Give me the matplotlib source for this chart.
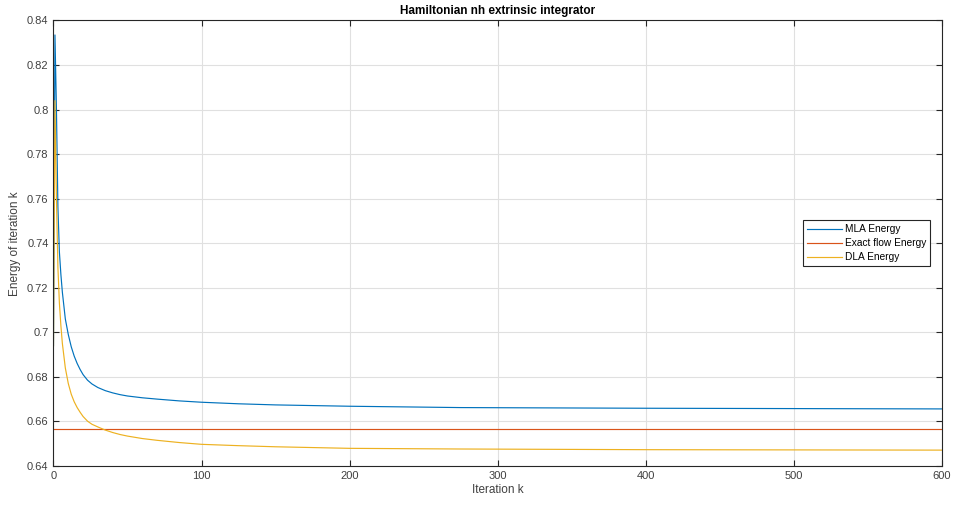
import numpy as np
import matplotlib
matplotlib.use("Agg")
import matplotlib.pyplot as plt
from matplotlib.ticker import FuncFormatter

plt.rcParams['font.family'] = ['Liberation Sans', 'DejaVu Sans']

# values
k_mla = [0, 1, 2, 3, 4, 5, 6, 8, 10, 12, 14, 16, 18, 20, 23, 26, 30, 35, 40, 45, 50, 60, 70,
         85, 100, 125, 150, 200, 275, 400, 600]
e_mla = [0.694, 0.8335, 0.800, 0.756, 0.736, 0.726, 0.718, 0.706, 0.699, 0.6935, 0.6893, 0.6860,
         0.6833, 0.6810, 0.6785, 0.6768, 0.6752, 0.6738, 0.6728, 0.6720, 0.6714, 0.6706, 0.6700,
         0.6692, 0.6686, 0.6679, 0.6674, 0.6668, 0.6662, 0.6659, 0.6656]

k_exact = [0, 600]
e_exact = [0.6565, 0.6565]

k_dla = [0, 1, 2, 3, 4, 5, 6, 8, 10, 12, 14, 16, 18, 20, 23, 26, 30, 35, 40, 45, 50, 60, 70,
         85, 100, 125, 150, 200, 275, 400, 600]
e_dla = [0.694, 0.804, 0.760, 0.729, 0.713, 0.703, 0.695, 0.684, 0.677, 0.6722, 0.6688, 0.6662,
         0.6641, 0.6622, 0.6601, 0.6587, 0.6575, 0.6561, 0.6550, 0.6541, 0.6534, 0.6523, 0.6515,
         0.6505, 0.6497, 0.6491, 0.6486, 0.6479, 0.6476, 0.6473, 0.6471]

labels = ['MLA Energy', 'Exact flow Energy', 'DLA Energy']
colors = ['#0072BD', '#D95319', '#EDB120']

fig = plt.figure(figsize=(9.55, 5.07), dpi=100)
ax = fig.add_axes([0.056, 0.081, 0.930, 0.8786])

ax.plot(k_mla, e_mla, color=colors[0], lw=0.85, label=labels[0])
ax.plot(k_exact, e_exact, color=colors[1], lw=0.85, label=labels[1])
ax.plot(k_dla, e_dla, color=colors[2], lw=0.85, label=labels[2])

ax.set_xlim(0, 600)
ax.set_ylim(0.64, 0.84)
ax.set_xticks(np.arange(0, 601, 100))
ax.set_yticks(np.arange(0.64, 0.8401, 0.02))
ax.yaxis.set_major_formatter(FuncFormatter(lambda v, p: f'{round(v, 2):g}'))

ax.grid(True, color='#E0E0E0', lw=0.8)
ax.set_axisbelow(True)
for s in ax.spines.values():
    s.set_color('#262626')
    s.set_linewidth(0.8)
ax.tick_params(direction='in', top=True, right=True, length=4, width=0.8,
               colors='#262626', labelsize=8, labelcolor='#404040')

ax.set_title('Hamiltonian nh extrinsic integrator', fontsize=8.5, fontweight='bold', pad=5)
ax.set_xlabel('Iteration k', fontsize=8.5, color='#404040', labelpad=2)
ax.set_ylabel('Energy of iteration k', fontsize=8.5, color='#404040', labelpad=4)

leg = ax.legend(loc='center right', bbox_to_anchor=(0.993, 0.5), fontsize=7.3,
                fancybox=False, framealpha=1, edgecolor='#262626', handlelength=3.4,
                borderpad=0.4, labelspacing=0.38, handletextpad=0.3)
leg.get_frame().set_linewidth(0.8)

fig.savefig('out.png', dpi=100)
